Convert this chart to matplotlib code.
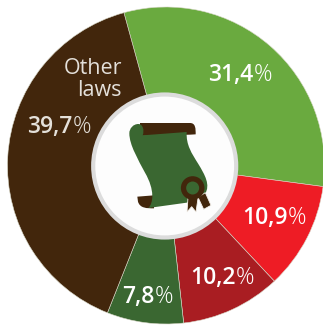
import matplotlib
matplotlib.use('Agg')
import matplotlib.pyplot as plt
from matplotlib.patches import Circle, PathPatch, Polygon
from matplotlib.path import Path

W, H = 323, 325

shares = [31.4, 10.9, 10.2, 7.8, 39.7]
labels = ['31,4', '10,9', '10,2', '7,8', '39,7']
colors = ['#6aaa3f', '#ee1c25', '#a91d22', '#3a6731', '#42260c']
label_xy = [(240, 75), (274, 218), (222, 278), (148, 297), (59, 127)]
label_colors = ['white', 'white', 'white', 'white', '#e4e0da']

BROWN = '#42260c'
DARK_GREEN = '#3a6731'


# icon outlines are sketched on a 450 px grid over the middle of the chart
def ic(x, y):
    return (x / 3 + 90, H - (y / 3 + 90))


def curve(verts, codes, **kw):
    return PathPatch(Path([ic(*v) for v in verts], codes), **kw)


M, L, C, Z = Path.MOVETO, Path.LINETO, Path.CURVE4, Path.CLOSEPOLY

fig = plt.figure(figsize=(W / 100, H / 100), dpi=100)
ax = fig.add_axes([0, 0, 1, 1])

ax.pie(shares, colors=colors, startangle=105.4, counterclock=False,
       center=(166, H - 165.5), radius=158.5,
       wedgeprops={'linewidth': 0.4, 'edgecolor': '#d8d8c8'})
ax.set_xlim(0, W)
ax.set_ylim(0, H)
ax.axis('off')

# centre disc
ax.add_patch(Circle((164.7, H - 166), 71.5, fc='#fdfdfd', ec='#dcdcdc', lw=3, zorder=3))

# scroll: top roller
ax.add_patch(curve(
    [(150, 99), (300, 99), (317, 99), (317, 116), (317, 133), (300, 134),
     (150, 138), (150, 99)],
    [M, L, C, C, C, L, L, Z],
    fc=BROWN, ec='none', zorder=4))
# scroll: bottom curl
ax.add_patch(curve(
    [(142, 320), (192, 316), (192, 355), (170, 355), (150, 355), (144, 335), (142, 320), (142, 320)],
    [M, L, L, C, C, C, L, Z],
    fc=BROWN, ec='none', zorder=4))
# scroll: sheet
ax.add_patch(curve(
    [(145, 102), (158, 102), (164, 120), (158, 136),
     (290, 126), (288, 165), (305, 190), (325, 222),
     (345, 255), (362, 285), (345, 312),
     (290, 338),
     (175, 354), (190, 340), (195, 300), (165, 248),
     (145, 210), (118, 165), (118, 130), (118, 115), (130, 102), (145, 102),
     (145, 102)],
    [M, C, C, C,
     L, C, C, C,
     C, C, C,
     L,
     L, C, C, C,
     C, C, C, C, C, C,
     Z],
    fc=DARK_GREEN, ec='none', zorder=5))

# seal ribbons
ribbon_a = [(294, 322), (291, 366), (305, 350), (318, 366), (324, 325)]
ribbon_b = [(324, 322), (341, 358), (363, 346), (346, 308)]
for pts in (ribbon_a, ribbon_b):
    ax.add_patch(Polygon([ic(*p) for p in pts], fc=BROWN, ec='#f4f1ec', lw=0.6, zorder=6))
# seal ring
ax.add_patch(Circle(ic(308, 294), 11.8, fc=BROWN, ec='none', zorder=7))
ax.add_patch(Circle(ic(308, 294), 6.5, fc=DARK_GREEN, ec='none', zorder=8))

font = ['Open Sans', 'DejaVu Sans']
renderer = fig.canvas.get_renderer()
for txt, (x, y), c in zip(labels, label_xy, label_colors):
    # semibold figure with a lighter percent sign, centred together
    num = ax.text(x, H - y, txt, color=c, fontsize=16.5, family=font, weight=600,
                  ha='left', va='center', zorder=9)
    pct = ax.text(x, H - y, '%', color=c, fontsize=16.5, family=font, weight=300,
                  ha='left', va='center', zorder=9)
    w1 = num.get_window_extent(renderer).width
    w2 = pct.get_window_extent(renderer).width
    num.set_x(x - (w1 + w2) / 2)
    pct.set_x(x - (w1 + w2) / 2 + w1)
ax.text(122, H - 68, 'Other', color='#e4e0da', fontsize=15.5, family=font,
        ha='right', va='center', zorder=9)
ax.text(122, H - 90, 'laws', color='#e4e0da', fontsize=15.5, family=font,
        ha='right', va='center', zorder=9)

fig.savefig('out.png', dpi=100, facecolor='white')
